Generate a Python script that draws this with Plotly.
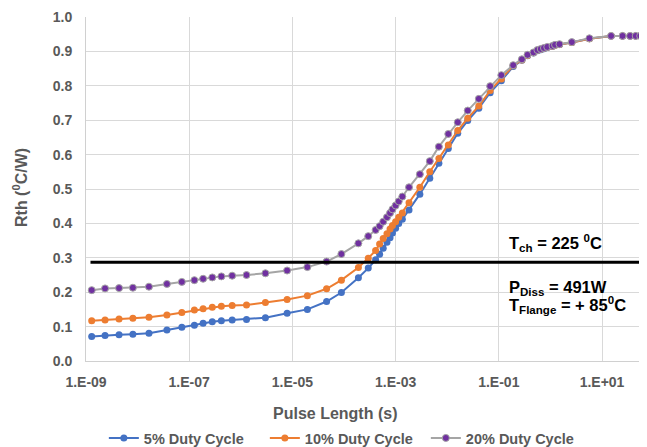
import plotly.graph_objects as go

# Pulse length (s)
pulse_s = [1.29e-9, 2.34e-9, 4.37e-9, 8.1e-9, 1.66e-8, 3.7e-8, 7.2e-8, 1.26e-7, 1.86e-7,
           2.8e-7, 4.2e-7, 6.8e-7, 1.29e-6, 3.0e-6, 7.9e-6, 1.95e-5, 4.6e-5, 8.9e-5,
           1.9e-4, 2.95e-4, 4.1e-4, 4.9e-4, 5.75e-4, 6.8e-4, 7.8e-4, 8.7e-4, 1.0e-3,
           1.15e-3, 1.35e-3, 1.82e-3, 2.95e-3, 4.6e-3, 6.9e-3, 1.05e-2, 1.6e-2, 2.5e-2,
           4.1e-2, 6.8e-2, 0.112, 0.19, 0.28, 0.36, 0.47, 0.56, 0.65, 0.75, 0.87, 1.1,
           1.23, 1.5, 2.6, 5.7, 15, 25, 35, 45, 55, 65]

rth_5 = [0.071, 0.074, 0.076, 0.078, 0.081, 0.090, 0.098, 0.104, 0.110,
         0.114, 0.117, 0.119, 0.121, 0.126, 0.139, 0.150, 0.173, 0.199,
         0.242, 0.270, 0.294, 0.310, 0.328, 0.345, 0.358, 0.372, 0.386,
         0.400, 0.412, 0.439, 0.485, 0.531, 0.575, 0.618, 0.662, 0.699,
         0.735, 0.780, 0.815, 0.856, 0.874, 0.887, 0.895, 0.902, 0.905, 0.908, 0.911, 0.915,
         0.918, 0.920, 0.926, 0.937, 0.945, 0.945, 0.945, 0.945, 0.945, 0.945]

rth_10 = [0.117, 0.119, 0.122, 0.124, 0.127, 0.134, 0.141, 0.148, 0.152,
          0.156, 0.159, 0.161, 0.163, 0.170, 0.179, 0.190, 0.210, 0.235,
          0.272, 0.299, 0.321, 0.340, 0.356, 0.370, 0.384, 0.394, 0.405,
          0.418, 0.430, 0.460, 0.505, 0.550, 0.589, 0.628, 0.670, 0.706,
          0.741, 0.786, 0.820, 0.858, 0.875, 0.888, 0.896, 0.903, 0.906, 0.909, 0.912, 0.915,
          0.918, 0.920, 0.926, 0.937, 0.945, 0.945, 0.945, 0.945, 0.945, 0.945]

rth_20 = [0.206, 0.211, 0.212, 0.213, 0.216, 0.224, 0.230, 0.235, 0.239,
          0.243, 0.246, 0.248, 0.250, 0.255, 0.263, 0.273, 0.289, 0.311,
          0.342, 0.363, 0.381, 0.392, 0.405, 0.418, 0.430, 0.441, 0.452,
          0.464, 0.478, 0.505, 0.543, 0.581, 0.623, 0.660, 0.694, 0.728,
          0.762, 0.799, 0.831, 0.860, 0.877, 0.890, 0.897, 0.904, 0.907, 0.910, 0.913, 0.916,
          0.919, 0.921, 0.927, 0.938, 0.945, 0.945, 0.945, 0.945, 0.945, 0.945]

tch_limit = 0.287

x_tick_vals = [1e-9, 1e-7, 1e-5, 1e-3, 1e-1, 1e1]
x_tick_text = ["1.E-09", "1.E-07", "1.E-05", "1.E-03", "1.E-01", "1.E+01"]
y_tick_vals = [0.0, 0.1, 0.2, 0.3, 0.4, 0.5, 0.6, 0.7, 0.8, 0.9, 1.0]

FONT = "Liberation Sans, Arial, sans-serif"
GRAY = "#595959"

fig = go.Figure()
fig.add_trace(go.Scatter(x=pulse_s, y=rth_5, mode="lines+markers", name="5% Duty Cycle",
                         line=dict(color="#4472C4", width=2),
                         marker=dict(color="#4472C4", size=7)))
fig.add_trace(go.Scatter(x=pulse_s, y=rth_10, mode="lines+markers", name="10% Duty Cycle",
                         line=dict(color="#ED7D31", width=2),
                         marker=dict(color="#ED7D31", size=7)))
fig.add_trace(go.Scatter(x=pulse_s, y=rth_20, mode="lines+markers", name="20% Duty Cycle",
                         line=dict(color="#A5A5A5", width=2),
                         marker=dict(color="#7030A0", size=7,
                                     line=dict(color="#A5A5A5", width=1))))

fig.add_shape(type="line", xref="paper", yref="y", x0=0.008, x1=1.02,
              y0=tch_limit, y1=tch_limit, line=dict(color="black", width=3))

ann_font = dict(family=FONT, size=16.5, color="black")
fig.add_annotation(xref="paper", yref="y", x=0.7504, y=0.343, xanchor="left", yanchor="middle",
                   text="<b>T<sub>ch</sub> = 225 <sup>0</sup>C</b>", showarrow=False, font=ann_font)
fig.add_annotation(xref="paper", yref="y", x=0.7504, y=0.212, xanchor="left", yanchor="middle",
                   text="<b>P<sub>Diss</sub> = 491W</b>", showarrow=False, font=ann_font)
fig.add_annotation(xref="paper", yref="y", x=0.7504, y=0.163, xanchor="left", yanchor="middle",
                   text="<b>T<sub>Flange</sub> = + 85<sup>0</sup>C</b>", showarrow=False, font=ann_font)

# axis titles
fig.add_annotation(xref="paper", yref="paper", x=0.444, y=-0.152, xanchor="center", yanchor="middle",
                   text="<b>Pulse Length (s)</b>", showarrow=False,
                   font=dict(family=FONT, size=16, color=GRAY))
fig.add_annotation(xref="paper", yref="paper", x=-0.1176, y=0.503, xanchor="center", yanchor="middle",
                   text="<b>Rth (<sup>0</sup>C/W)</b>", textangle=-90, showarrow=False,
                   font=dict(family=FONT, size=16, color=GRAY))

fig.update_xaxes(type="log", range=[-9, 1.872], tickvals=x_tick_vals, ticktext=x_tick_text,
                 showgrid=True, gridcolor="#D9D9D9", gridwidth=1, automargin=False,
                 showline=True, linecolor="#D0D0D0", linewidth=1, zeroline=False,
                 ticks="", ticklabelstandoff=8,
                 tickfont=dict(family=FONT, size=14, color=GRAY, weight="bold"))
fig.update_yaxes(range=[0, 1], tickvals=y_tick_vals, tickformat=".1f",
                 showgrid=True, gridcolor="#D9D9D9", gridwidth=1, automargin=False,
                 showline=True, linecolor="#D0D0D0", linewidth=1, zeroline=False,
                 ticks="", ticklabelstandoff=10,
                 tickfont=dict(family=FONT, size=14, color=GRAY, weight="bold"))

fig.update_layout(
    width=639, height=439,
    margin=dict(l=78, r=0, t=9, b=86, autoexpand=False),
    paper_bgcolor="white", plot_bgcolor="white",
    showlegend=True,
    legend=dict(orientation="h", xref="container", yref="container", x=0.150, y=0.0205,
                xanchor="left", yanchor="middle", entrywidth=116,
                font=dict(family=FONT, size=14.5, color=GRAY, weight="bold"),
                itemwidth=30, tracegroupgap=0),
)

fig.write_html("out.html")
